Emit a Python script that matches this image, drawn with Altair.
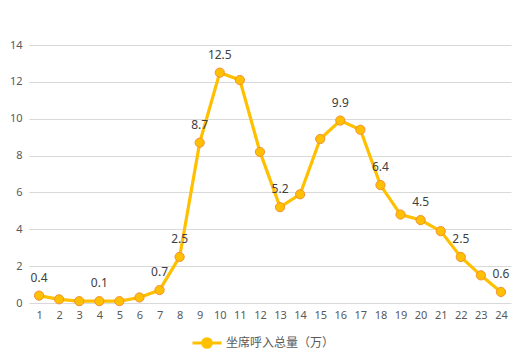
import altair as alt
import pandas as pd

hours = list(range(1, 25))
values = [0.4, 0.2, 0.1, 0.1, 0.1, 0.3, 0.7, 2.5, 8.7, 12.5, 12.1, 8.2,
          5.2, 5.9, 8.9, 9.9, 9.4, 6.4, 4.8, 4.5, 3.9, 2.5, 1.5, 0.6]
labeled_hours = [1, 4, 7, 8, 9, 10, 13, 16, 18, 20, 22, 24]
series_name = "坐席呼入总量（万）"
y_ticks = [0, 2, 4, 6, 8, 10, 12, 14]

df = pd.DataFrame({
    "hour": [str(h) for h in hours],
    "value": values,
    "series": series_name,
    "label": [f"{v:.1f}" if h in labeled_hours else "" for h, v in zip(hours, values)],
})

LINE = "#FFC000"
EDGE = "#F4903A"
TXT = "#595959"

x = alt.X("hour:N", sort=[str(h) for h in hours],
          scale=alt.Scale(paddingInner=0, paddingOuter=0.5),
          axis=alt.Axis(title=None, labelAngle=0, ticks=False, domain=False,
                        labelColor=TXT, labelFontSize=11, labelFont="Noto Sans",
                        labelPadding=6, grid=False))
y = alt.Y("value:Q", scale=alt.Scale(domain=[0, 14], nice=False),
          axis=alt.Axis(title=None, values=y_ticks, ticks=False, domain=False,
                        labelColor=TXT, labelFontSize=11, labelFont="Noto Sans",
                        labelPadding=7, gridColor="#D9D9D9", gridWidth=1))

color = alt.Color("series:N", scale=alt.Scale(range=[LINE]),
                  legend=alt.Legend(title=None, orient="none", legendX=162, legendY=282,
                                    symbolType="M-1,0H-0.3M0.3,0H1M0.3,0A0.3,0.3 0 1,1 -0.3,0A0.3,0.3 0 1,1 0.3,0",
                                    symbolSize=841, symbolStrokeWidth=3,
                                    symbolFillColor=LINE, symbolStrokeColor=LINE,
                                    labelFont="Noto Sans CJK SC", labelFontSize=12,
                                    labelColor=TXT, labelOffset=3, padding=0))

base = alt.Chart(df)
line = base.mark_line(strokeWidth=3.2, color=LINE).encode(x=x, y=y, color=color)
points = base.mark_point(filled=True, size=85, fill=LINE, stroke=EDGE,
                         strokeWidth=1, opacity=1).encode(x=x, y=y)
labels = base.mark_text(dy=-18, fontSize=12, font="Noto Sans", color="#404040").encode(
    x=x, y=y, text="label:N")

chart = (line + points + labels).properties(
    width=482, height=258,
    autosize=alt.AutoSizeParams(type="none"),
    padding={"left": 21, "top": 37, "right": 5, "bottom": 48},
).configure_view(stroke=None)

chart.save("out.html", embed_options={"renderer": "svg", "actions": False})
